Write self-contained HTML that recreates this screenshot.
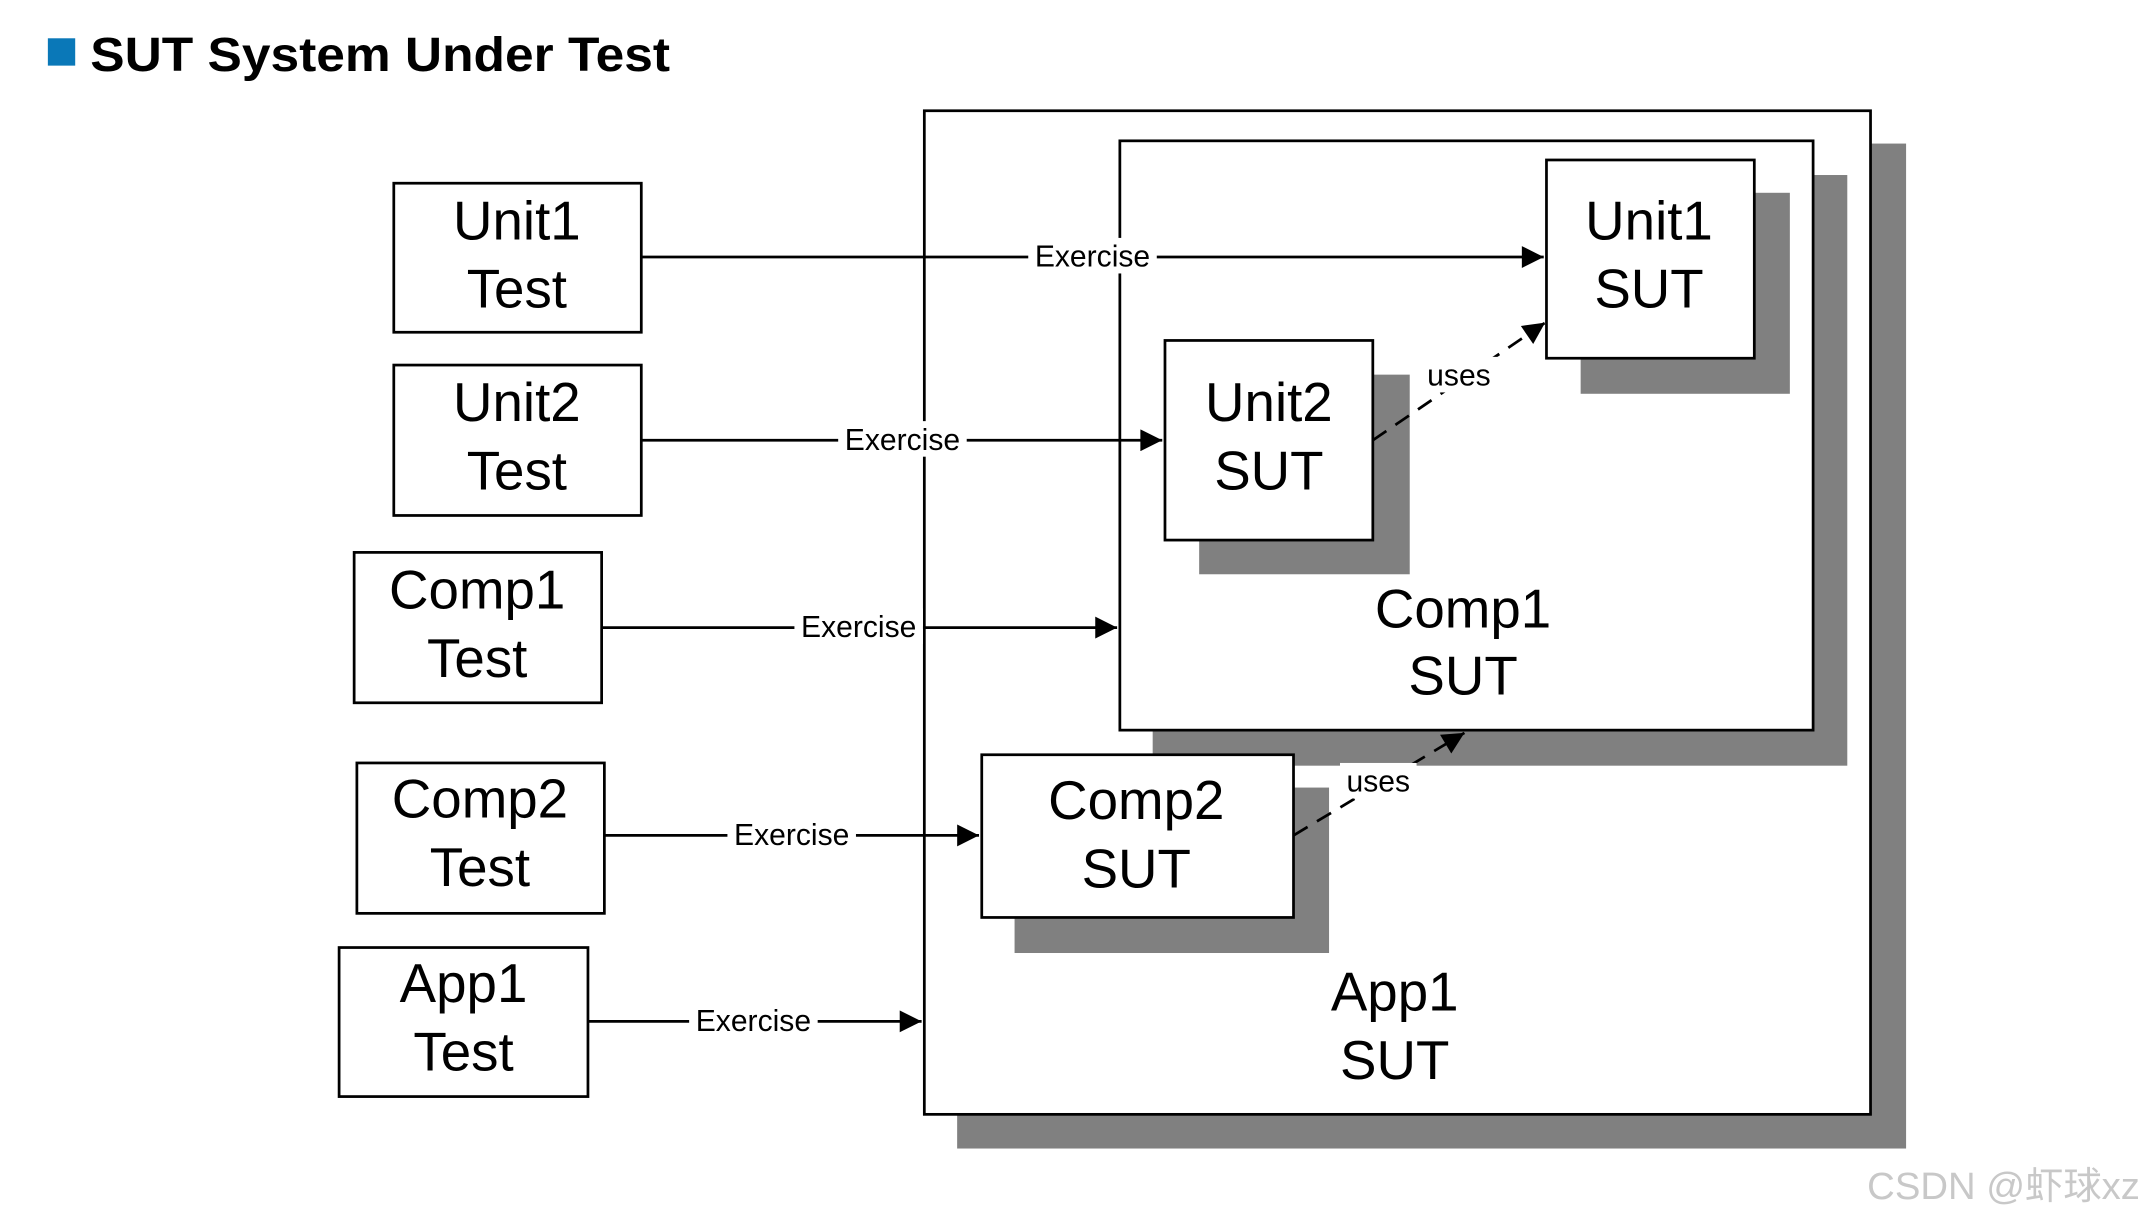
<!DOCTYPE html>
<html><head><meta charset="utf-8"><style>
html,body{margin:0;padding:0;background:#fff;width:2144px;height:1221px;overflow:hidden}
svg{display:block}
text{font-family:"Liberation Sans","Noto Sans CJK SC",sans-serif}
</style></head><body>
<svg width="2144" height="1221" viewBox="0 0 1568 893" preserveAspectRatio="none" xmlns="http://www.w3.org/2000/svg">
<defs>
<marker id="b" viewBox="0 0 10 10" refX="10" refY="5" markerWidth="22" markerHeight="16" markerUnits="userSpaceOnUse" orient="auto"><path d="M0,0 L10,5 L0,10 z" fill="#000"/></marker>
</defs>
<rect x="35" y="28" width="20" height="20" fill="#0a78b8"/>
<text x="66" y="52" font-size="35" font-weight="bold" textLength="424" lengthAdjust="spacingAndGlyphs">SUT System Under Test</text>

<rect x="700" y="105" width="694" height="735" fill="#808080"/>
<rect x="676" y="81" width="692" height="734" fill="#fff" stroke="#000" stroke-width="2"/>
<rect x="843" y="128" width="508" height="432" fill="#808080"/>
<rect x="819" y="103" width="507" height="431" fill="#fff" stroke="#000" stroke-width="2"/>
<rect x="1156" y="141" width="153" height="147" fill="#808080"/>
<rect x="1131" y="117" width="152" height="145" fill="#fff" stroke="#000" stroke-width="2"/>
<rect x="877" y="274" width="154" height="146" fill="#808080"/>
<rect x="852" y="249" width="152" height="146" fill="#fff" stroke="#000" stroke-width="2"/>
<rect x="742" y="576" width="230" height="121" fill="#808080"/>
<rect x="718" y="552" width="228" height="119" fill="#fff" stroke="#000" stroke-width="2"/>

<g fill="#fff" stroke="#000" stroke-width="2">
<rect x="288" y="134" width="181" height="109"/>
<rect x="288" y="267" width="181" height="110"/>
<rect x="259" y="404" width="181" height="110"/>
<rect x="261" y="558" width="181" height="110"/>
<rect x="248" y="693" width="182" height="109"/>
</g>
<g font-size="40" text-anchor="middle">
<text x="378" y="175">Unit1</text><text x="378" y="225">Test</text>
<text x="378" y="308">Unit2</text><text x="378" y="358">Test</text>
<text x="349" y="445">Comp1</text><text x="349" y="495">Test</text>
<text x="351" y="598">Comp2</text><text x="351" y="648">Test</text>
<text x="339" y="733">App1</text><text x="339" y="783">Test</text>
<text x="1206" y="175">Unit1</text><text x="1206" y="225">SUT</text>
<text x="928" y="308">Unit2</text><text x="928" y="358">SUT</text>
<text x="1070" y="459">Comp1</text><text x="1070" y="508">SUT</text>
<text x="831" y="599">Comp2</text><text x="831" y="649">SUT</text>
<text x="1020" y="739">App1</text><text x="1020" y="789">SUT</text>
</g>

<g stroke="#000" stroke-width="2" fill="none">
<line x1="469" y1="188" x2="1129" y2="188" marker-end="url(#b)"/>
<line x1="469" y1="322" x2="850" y2="322" marker-end="url(#b)"/>
<line x1="440" y1="459" x2="817" y2="459" marker-end="url(#b)"/>
<line x1="442" y1="611" x2="716" y2="611" marker-end="url(#b)"/>
<line x1="430" y1="747" x2="674" y2="747" marker-end="url(#b)"/>
<line x1="1004" y1="322" x2="1130" y2="236" stroke-dasharray="12,8" marker-end="url(#b)"/>
<line x1="946" y1="611" x2="1071" y2="536" stroke-dasharray="12,8" marker-end="url(#b)"/>
</g>
<g font-size="22" text-anchor="middle">
<rect x="752" y="174" width="94" height="26" fill="#fff"/><text x="799" y="195">Exercise</text>
<rect x="613" y="308" width="94" height="26" fill="#fff"/><text x="660" y="329">Exercise</text>
<rect x="581" y="445" width="94" height="26" fill="#fff"/><text x="628" y="466">Exercise</text>
<rect x="532" y="597" width="94" height="26" fill="#fff"/><text x="579" y="618">Exercise</text>
<rect x="504" y="733" width="94" height="26" fill="#fff"/><text x="551" y="754">Exercise</text>
<rect x="1038" y="261" width="58" height="26" fill="#fff"/><text x="1067" y="282">uses</text>
<rect x="980" y="558" width="56" height="26" fill="#fff"/><text x="1008" y="579">uses</text>
</g>
<text x="1565" y="877" font-size="28" fill="#c8c8c8" text-anchor="end">CSDN @虾球xz</text>
</svg>
</body></html>
